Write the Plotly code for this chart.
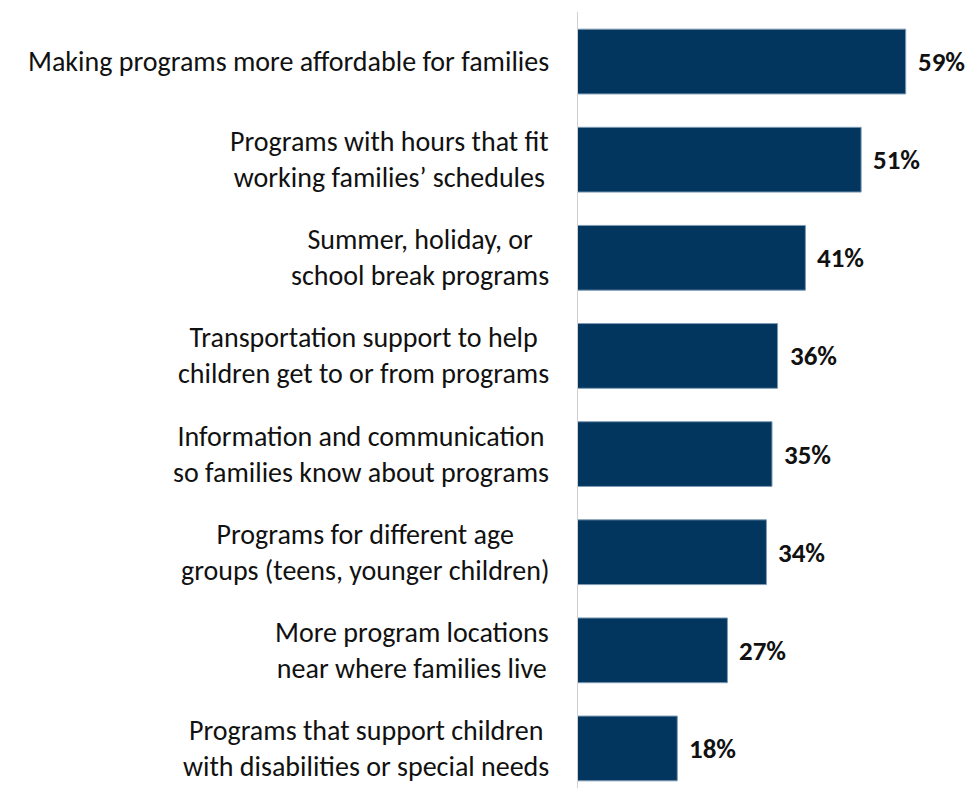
import plotly.graph_objects as go

categories = [
    "Making programs more affordable for families",
    "Programs with hours that fit<br>working families’ schedules",
    "Summer, holiday, or<br>school break programs",
    "Transportation support to help<br>children get to or from programs",
    "Information and communication<br>so families know about programs",
    "Programs for different age<br>groups (teens, younger children)",
    "More program locations<br>near where families live",
    "Programs that support children<br>with disabilities or special needs",
]
values = [59, 51, 41, 36, 35, 34, 27, 18]
value_labels = [f"{v}%" for v in values]

FONT = "Carlito, Calibri, Lato, sans-serif"
positions = list(range(len(categories)))

fig = go.Figure(
    go.Bar(
        x=values,
        y=positions,
        orientation="h",
        width=0.66,
        marker=dict(color="#03365F", line=dict(color="#7F9BB5", width=1)),
        hoverinfo="x+y",
    )
)

for pos, cat, val, lab in zip(positions, categories, values, value_labels):
    # category label: centred lines, block right-aligned next to the axis
    fig.add_annotation(
        x=0, y=pos, xref="x", yref="y",
        text=cat,
        showarrow=False,
        xanchor="right", yanchor="middle",
        align="center",
        xshift=-26,
        font=dict(family=FONT, size=28, color="#111111"),
    )
    # value label just right of each bar end
    fig.add_annotation(
        x=val, y=pos, xref="x", yref="y",
        text=f"<b>{lab}</b>",
        showarrow=False,
        xanchor="left", yanchor="middle",
        xshift=10,
        font=dict(family=FONT, size=27, color="#111111"),
    )

fig.update_layout(
    width=969,
    height=788,
    margin=dict(l=577, r=2, t=12, b=0),
    paper_bgcolor="white",
    plot_bgcolor="white",
    showlegend=False,
    font=dict(family=FONT, size=28, color="#111111"),
    xaxis=dict(range=[0, 70], visible=False, fixedrange=True),
    yaxis=dict(
        range=[7.403, -0.505],
        showticklabels=False,
        showgrid=False,
        zeroline=False,
        showline=False,
        ticks="",
        fixedrange=True,
    ),
    shapes=[
        dict(
            type="line", xref="x", yref="paper",
            x0=0, x1=0, y0=0, y1=1,
            line=dict(color="#D0D0D0", width=2),
        )
    ],
)

fig.write_html("out.html")
